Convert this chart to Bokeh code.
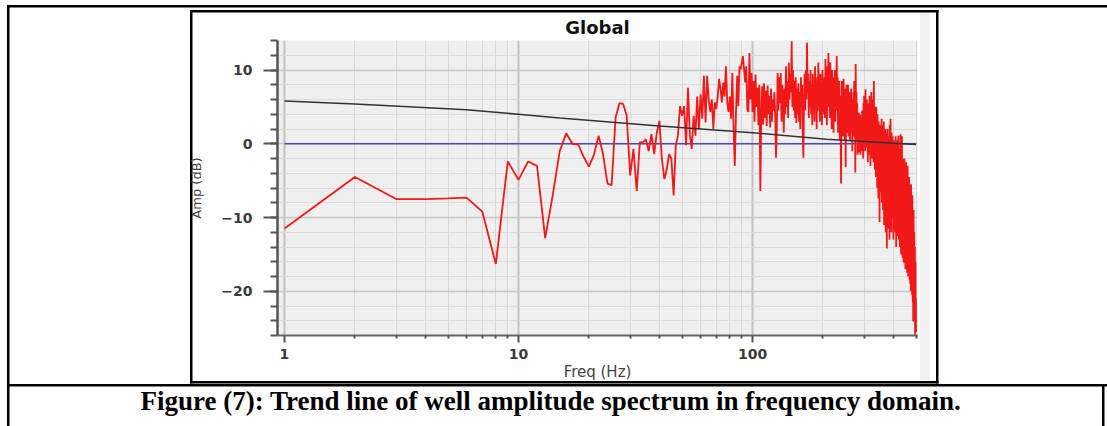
from bokeh.plotting import figure
from bokeh.models import Range1d, FixedTicker, SingleIntervalTicker, Title, PrintfTickFormatter
from bokeh.embed import file_html
from bokeh.resources import INLINE

# ---------------- data ----------------
title_text = "Global"
x_label = "Freq (Hz)"
y_label = "Amp (dB)"
caption = "Figure (7): Trend line of well amplitude spectrum in frequency domain."

x_major_ticks = [1, 10, 100]
x_minor_ticks = [2, 3, 4, 5, 6, 7, 8, 9, 20, 30, 40, 50, 60, 70, 80, 90, 200, 300, 400, 500]

# amplitude spectrum sampled every 1 Hz from 1 to 500 Hz
spec_freq = list(range(1, 501))
spec_amp = [
    -11.5, -4.5, -7.5, -7.5, -7.4, -7.3, -9.2, -16.3, -2.4, -4.9,
    -2.4, -3.0, -12.8, -7.0, -1.0, 1.4, 0.0, -0.1, -1.8, -3.1,
    -1.5, 1.1, -1.5, -5.4, -5.6, 3.6, 5.5, 5.4, 3.8, -4.3,
    -0.7, -6.4, 0.2, 0.2, 0.6, -1.0, 1.3, -1.4, 1.5, 3.1,
    -2.0, -4.8, -3.5, -1.4, -2.0, -7.0, -0.2, 1.1, 5.1, 3.8,
    5.1, -0.2, 7.6, 1.1, -0.7, 3.8, 1.1, 6.4, 2.0, 6.7,
    3.4, 9.2, 2.9, 9.2, 6.0, 4.3, 6.0, 2.0, 5.6, 4.7,
    6.4, 8.8, 7.4, 5.6, 8.3, 6.4, 10.5, 5.6, 4.3, 6.4,
    3.4, 9.6, 2.0, -3.0, 4.3, 9.2, 5.1, 10.5, 10.1, 11.0,
    11.9, 10.1, 8.3, 10.5, 4.7, 4.3, 12.3, 6.0, 9.6, 4.3,
    8.5, 3.0, 9.4, 5.0, 7.6, 2.5, 8.0, -6.4, 4.0, 7.8,
    2.6, 8.2, 3.5, 7.2, 2.4, 7.9, 4.0, 6.5, 2.2, 7.5,
    3.0, 6.0, 4.5, 7.0, 4.0, -1.9, 2.0, 9.6, 4.5, 9.0,
    5.5, 9.6, 3.0, 8.0, 6.0, 1.5, 7.5, 4.0, 10.5, 5.0,
    8.5, 3.5, 11.0, 6.0, 9.5, 7.0, 13.9, 5.0, 10.0, 4.5,
    8.5, 3.5, 9.0, 2.8, 7.5, 4.0, 8.2, 3.0, 7.0, 2.0,
    9.0, 5.0, 8.0, 1.0, -1.9, 6.0, 9.5, 4.5, 10.0, 6.0,
    13.7, 7.0, 9.5, 3.5, 8.5, 5.0, 10.0, 4.0, 8.0, 2.5,
    9.5, 5.5, 7.5, 3.0, 10.5, 6.0, 8.5, 2.0, 9.0, 4.5,
    11.0, 6.5, 8.0, 3.0, 9.5, 5.0, 7.0, 2.5, 10.0, 5.5,
    8.5, 4.0, 9.0, 3.5, 11.5, 6.0, 8.0, 2.5, 10.5, 5.0,
    12.3, 7.0, 9.0, 3.5, 11.0, 6.5, 8.5, 2.0, 10.0, 4.5,
    9.0, 1.5, 8.0, 5.0, 10.0, 3.0, 7.5, 4.5, 11.9, 6.0,
    9.0, 1.5, 7.0, 3.0, 8.5, 0.5, 6.5, 2.0, -5.4, 4.0,
    8.5, 2.5, 7.0, 1.0, 8.8, 3.0, 6.5, 0.5, 7.5, -3.2,
    5.0, 8.0, 1.5, 6.0, 2.5, 8.0, 1.0, 6.5, 3.0, 7.0,
    0.5, 5.5, 2.0, 7.5, 1.5, 6.0, -1.0, 5.0, 2.5, 7.0,
    1.0, 8.5, 3.5, 6.0, -3.9, 10.8, 4.0, 7.0, 0.5, 5.5,
    -1.5, 4.0, 1.0, 4.2, -1.2, 3.0, 0.0, 4.0, -1.5, 3.5,
    0.5, 2.8, -1.0, 4.5, 0.0, 3.0, -2.0, 5.5, 1.0, 6.5,
    0.5, 4.0, -1.0, 7.4, 2.0, 5.0, -0.5, 6.0, 1.5, 4.5,
    -2.5, 5.5, 0.5, 3.5, -1.5, 6.5, 1.0, 4.0, -3.0, 5.0,
    0.0, 7.0, 2.5, 4.5, -2.0, 6.0, 1.0, 3.5, -2.5, 8.5,
    2.0, 5.0, -3.5, 4.0, 0.0, 3.0, -4.5, 5.0, -1.0, 2.5,
    -6.0, 4.0, -2.0, 1.5, -7.4, 3.0, -4.0, 2.0, -10.6, 1.0,
    -3.0, 2.5, -6.5, 0.5, -4.0, 3.4, -8.0, 1.0, -5.0, 2.5,
    -9.0, 0.0, -6.0, 3.0, -11.0, 1.5, -5.5, -0.5, -8.5, 2.0,
    -12.0, 0.5, -7.0, 1.5, -14.2, -1.0, -6.0, 2.0, -9.5, 0.0,
    -11.5, 1.0, -5.0, -2.0, -13.0, 2.5, -7.0, 0.0, 3.4, -9.0,
    -1.0, -12.0, 1.5, -6.0, -2.0, -10.0, 1.0, -8.0, -3.0, -13.0,
    0.5, -7.0, -1.5, -11.0, -12.0, 0.0, -5.0, -9.5, 1.0, -4.0,
    -14.0, -0.5, -8.0, -2.0, -12.5, 0.5, -6.0, -10.0, -1.0, 1.1,
    -7.5, -13.0, -2.0, -9.0, -0.5, -14.0, -4.0, -11.0, 1.3, -6.0,
    -15.0, -2.5, -9.0, -1.0, 1.0, -12.0, -4.5, -15.5, -2.0, -10.0,
    -3.0, -16.0, -5.0, -12.0, -16.2, -2.0, -8.0, -14.0, -3.0, -17.0,
    -6.0, -11.0, -2.5, -16.5, -7.0, -13.0, -4.0, -17.5, -8.0, -3.0,
    -15.0, -9.0, -18.0, -5.0, -12.0, -17.0, -4.5, -10.0, -18.5, -6.0,
    -14.0, -19.0, -7.0, -12.0, -20.0, -5.5, -15.0, -19.5, -8.0, -13.0,
    -20.5, -7.0, -17.0, -21.5, -10.0, -24.1, -14.0, -9.0, -22.0, -16.0,
    -12.0, -23.0, -18.0, -14.0, -25.9, -19.0, -16.0, -24.0, -21.0, -25.5,
]

# trend line
trend_freq = [1, 2, 6, 10, 15, 40, 100, 207, 500]
trend_amp = [5.8, 5.4, 4.6, 4.0, 3.5, 2.4, 1.5, 0.6, -0.1]

# zero reference line
zero_freq = [1, 500]
zero_amp = [0, 0]

# ---------------- layout (canvas pixels) ----------------
W, H = 1107, 426
FL, FR, FT, FB = 277, 917, 40, 335


def css_bar(x, y, w, h, color="#000"):
    return f"linear-gradient({color},{color}) {x}px {y}px / {w}px {h}px no-repeat"


# page frame: table borders, chart box and its light side shadow (pure CSS behind canvas)
page_lines = ", ".join([
    css_bar(7, 5, 1100, 2.5),        # table top
    css_bar(6.5, 5, 2.5, 421),       # table left
    css_bar(7, 384, 1100, 2.5),      # table row divider
    css_bar(1102, 384, 2.5, 42),     # table right (caption row)
    css_bar(189.5, 9.5, 748.5, 2.5), # chart box top
    css_bar(189.5, 380.5, 748.5, 2.5),  # chart box bottom
    css_bar(189.5, 9.5, 2.5, 373.5),    # chart box left
    css_bar(935.5, 9.5, 2.5, 373.5),    # chart box right
    css_bar(920, 12, 10, 368, "#f0f0f0"),  # shadow strip
])

p = figure(width=W, height=H, x_axis_type="log",
           x_range=Range1d(0.9335, 507), y_range=Range1d(-26, 14),
           output_backend="svg", toolbar_location=None,
           min_border_left=FL, min_border_right=W - FR,
           min_border_top=FT, min_border_bottom=H - FB,
           background_fill_color="#efefef", border_fill_color=None)
p.outline_line_color = None
p.styles = {"background": page_lines + ", #ffffff"}

# title
p.title.text = title_text
p.title.align = "center"
p.title.text_font = "DejaVu Sans"
p.title.text_font_style = "bold"
p.title.text_font_size = "18px"
p.title.text_color = "#111111"
p.title.standoff = 6

# x axis
xa = p.xaxis[0]
xa.ticker = FixedTicker(ticks=x_major_ticks, minor_ticks=x_minor_ticks)
xa.formatter = PrintfTickFormatter(format="%d")
xa.axis_label = x_label
xa.axis_label_text_font = "DejaVu Sans"
xa.axis_label_text_font_style = "normal"
xa.axis_label_text_font_size = "15px"
xa.axis_label_text_color = "#444444"
xa.axis_label_standoff = 1
xa.major_label_text_font = "DejaVu Sans"
xa.major_label_text_font_style = "bold"
xa.major_label_text_font_size = "14px"
xa.major_label_text_color = "#3a3a3a"
xa.major_label_standoff = 6
xa.axis_line_color = "#666666"
xa.axis_line_width = 2
xa.major_tick_out = 7
xa.major_tick_in = 0
xa.minor_tick_out = 3
xa.minor_tick_in = 0
xa.major_tick_line_color = "#555555"
xa.major_tick_line_width = 2
xa.minor_tick_line_color = "#555555"
xa.minor_tick_line_width = 2

# y axis
ya = p.yaxis[0]
ya.ticker = SingleIntervalTicker(interval=10, num_minor_ticks=5)
ya.axis_label = y_label
ya.axis_label_text_font = "DejaVu Sans"
ya.axis_label_text_font_style = "normal"
ya.axis_label_text_font_size = "13px"
ya.axis_label_text_color = "#444444"
ya.axis_label_standoff = 14
ya.major_label_text_font = "DejaVu Sans"
ya.major_label_text_font_style = "bold"
ya.major_label_text_font_size = "14px"
ya.major_label_text_color = "#3a3a3a"
ya.major_label_standoff = 11
ya.axis_line_color = "#555555"
ya.axis_line_width = 2.5
ya.major_tick_out = 14
ya.major_tick_in = 0
ya.minor_tick_out = 7
ya.minor_tick_in = 0
ya.major_tick_line_color = "#555555"
ya.major_tick_line_width = 2
ya.minor_tick_line_color = "#555555"
ya.minor_tick_line_width = 2

# grids
p.xgrid.grid_line_color = "#c2c2c2"
p.xgrid.grid_line_width = 2
p.xgrid.minor_grid_line_color = "#d9d9d9"
p.xgrid.minor_grid_line_width = 1
p.ygrid.grid_line_color = "#c8c8c8"
p.ygrid.grid_line_width = 1.5
p.ygrid.minor_grid_line_color = "#dcdcdc"
p.ygrid.minor_grid_line_width = 1

# series
p.line(zero_freq, zero_amp, line_color="#4a4ab8", line_width=1.3)
p.line(spec_freq, spec_amp, line_color="#f21818", line_width=1.8)
p.line(trend_freq, trend_amp, line_color="#333333", line_width=1.6)

# figure caption (below the chart box)
p.add_layout(Title(text=caption, align="left", offset=-137, standoff=0,
                   text_font="Liberation Serif", text_font_style="bold",
                   text_font_size="27px", text_color="black"), "below")

open("out.html", "w").write(file_html(p, INLINE))
